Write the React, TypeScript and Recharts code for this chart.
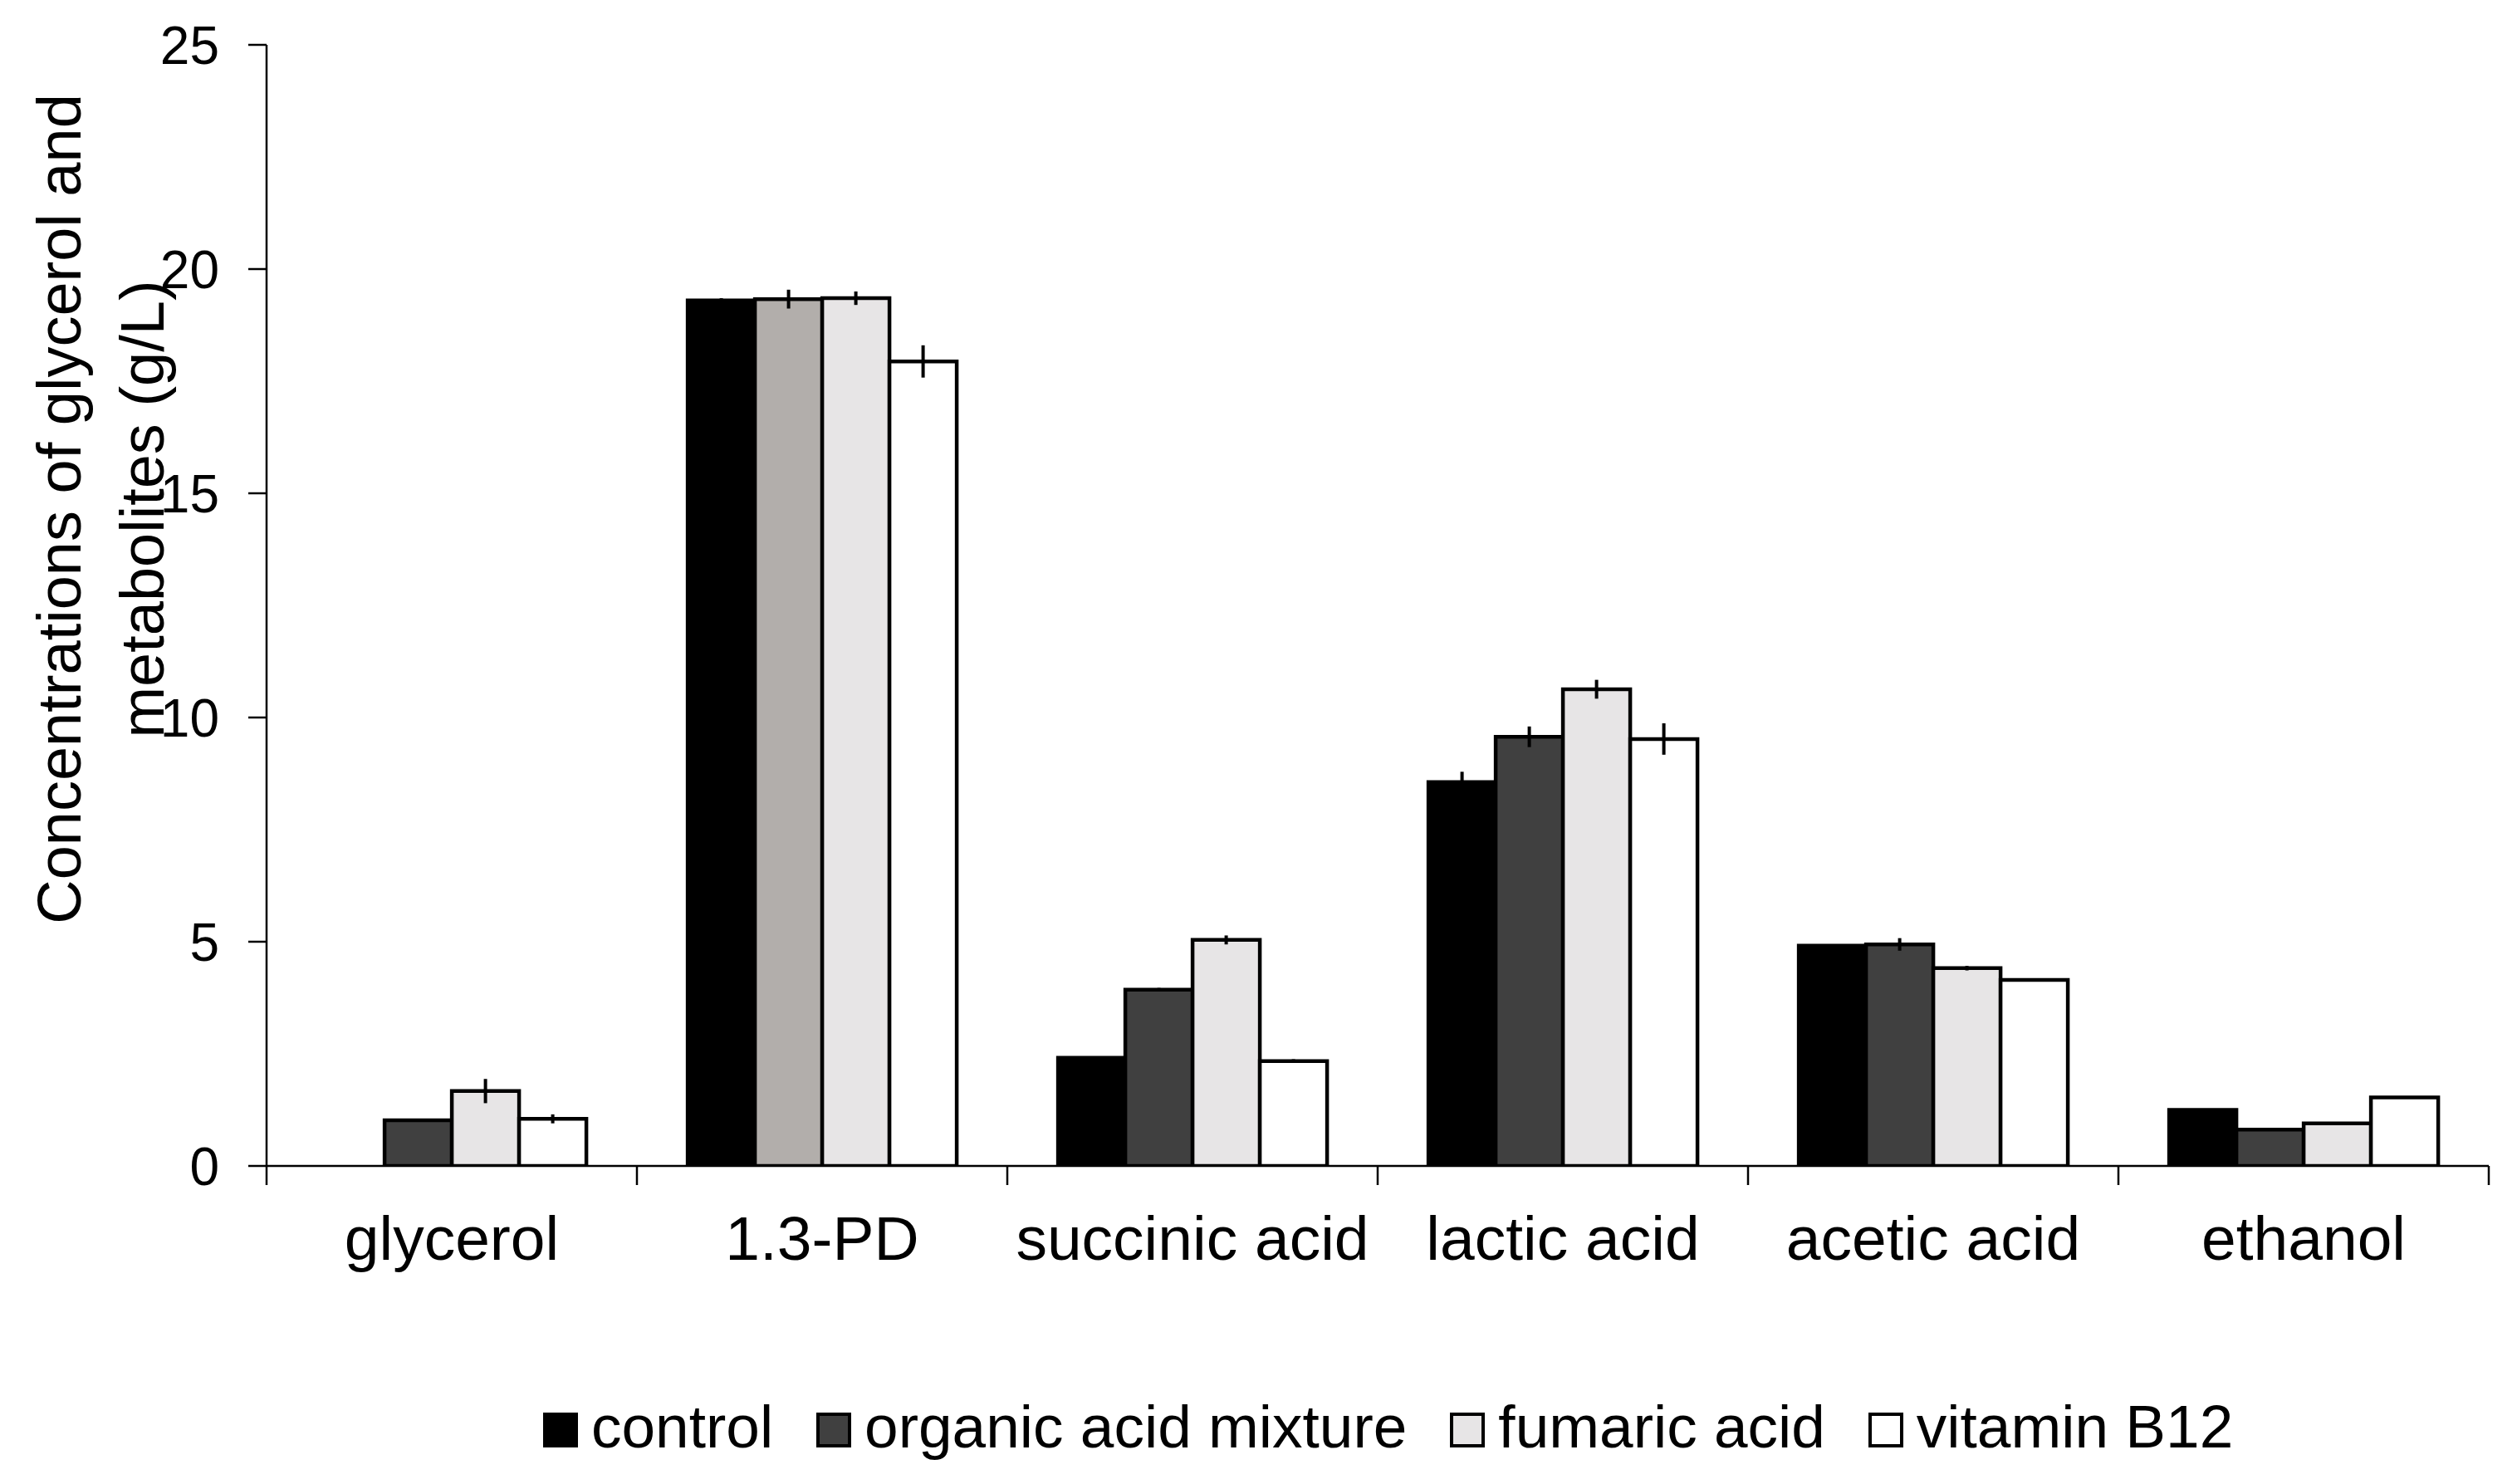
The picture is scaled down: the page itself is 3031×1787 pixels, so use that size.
import React from 'react';
import { BarChart, Bar, XAxis, YAxis, Legend, ErrorBar, Cell } from 'recharts';

// ---------- data ----------
const categories = ['glycerol', '1.3-PD', 'succinic acid', 'lactic acid', 'acetic acid', 'ethanol'];
const seriesNames = ['control', 'organic acid mixture', 'fumaric acid', 'vitamin B12'];

const control = [0, 19.3, 2.41, 8.56, 4.91, 1.25];
const organicMix = [1.02, 19.33, 3.93, 9.57, 4.94, 0.81];
const fumaric = [1.67, 19.35, 5.04, 10.63, 4.41, 0.95];
const vitaminB12 = [1.05, 17.94, 2.34, 9.52, 4.15, 1.53];

const controlErr = [0, 0.05, 0, 0.23, 0, 0];
const organicMixErr = [0, 0.21, 0.04, 0.23, 0.14, 0];
const fumaricErr = [0.27, 0.15, 0.1, 0.21, 0.05, 0];
const vitaminB12Err = [0.1, 0.36, 0.04, 0.35, 0, 0];

const yTicks = [0, 5, 10, 15, 20, 25];
const yLabelLines = ['Concentrations of glycerol and', 'metabolites (g/L)'];

const data = categories.map((category, i) => ({
  category,
  control: control[i],
  controlErr: controlErr[i],
  organic: organicMix[i],
  organicErr: organicMixErr[i],
  fumaric: fumaric[i],
  fumaricErr: fumaricErr[i],
  vitamin: vitaminB12[i],
  vitaminErr: vitaminB12Err[i],
}));

// ---------- styles / layout ----------
const FONT = '"Liberation Sans", Arial, Helvetica, sans-serif';
const CHART_W = 3015;
const CHART_H = 1771;
const MARGIN = { top: 46, right: 26, bottom: 0, left: 0 };
const Y_AXIS_W = 313;
const X_AXIS_H = 375;
const PLOT_W = CHART_W - MARGIN.left - MARGIN.right - Y_AXIS_W;
const HALF_BAND = PLOT_W / categories.length / 2;
const AXIS_STROKE = 2.5;
const BAR_STROKE = 4.5;

const seriesKeys = ['control', 'organic', 'fumaric', 'vitamin'];
const seriesFills = ['#000000', '#404040', '#e7e5e6', '#ffffff'];
const specialOrganicFill = '#b2aeab'; // 1.3-PD organic acid mixture bar

const CatTick = (props: any) => {
  const { x, y, payload, index } = props;
  const isLast = index === categories.length - 1;
  return (
    <g>
      <line x1={x - HALF_BAND} x2={x - HALF_BAND} y1={y} y2={y + 23} stroke="#000" strokeWidth={AXIS_STROKE} />
      {isLast && (
        <line x1={x + HALF_BAND} x2={x + HALF_BAND} y1={y} y2={y + 23} stroke="#000" strokeWidth={AXIS_STROKE} />
      )}
      <text x={x} y={y + 113} textAnchor="middle" fontSize={75} fontFamily={FONT} fill="#000">
        {payload.value}
      </text>
    </g>
  );
};

const YLabel = (props: any) => {
  const vb = props.viewBox || { x: 0, y: 0, width: 0, height: 0 };
  const cy = vb.y + vb.height / 2 - 116;
  const xs = [vb.x + 89, vb.x + 189];
  return (
    <g>
      {yLabelLines.map((line, i) => (
        <text
          key={i}
          x={xs[i]}
          y={cy}
          transform={`rotate(-90, ${xs[i]}, ${cy})`}
          textAnchor="middle"
          fontSize={74}
          fontFamily={FONT}
          fill="#000"
        >
          {line}
        </text>
      ))}
    </g>
  );
};

const LegendContent = () => (
  <div
    style={{
      display: 'flex',
      flexDirection: 'row',
      alignItems: 'center',
      gap: 52,
      fontFamily: FONT,
      fontSize: 73,
      lineHeight: '72px',
      color: '#000',
      whiteSpace: 'nowrap',
    }}
  >
    {seriesNames.map((name, i) => (
      <div key={name} style={{ display: 'flex', alignItems: 'center', gap: 16 }}>
        <div
          style={{
            width: 42,
            height: 42,
            boxSizing: 'border-box',
            background: seriesFills[i],
            border: '4.5px solid #000',
          }}
        />
        <span style={{ position: 'relative', top: -4 }}>{name}</span>
      </div>
    ))}
  </div>
);

export default function App() {
  return (
    <div style={{ width: CHART_W, height: CHART_H, background: '#fff' }}>
      <BarChart
        width={CHART_W}
        height={CHART_H}
        data={data}
        margin={MARGIN}
        barCategoryGap="13.7%"
        barGap={0}
      >
        <XAxis
          dataKey="category"
          height={X_AXIS_H}
          interval={0}
          tickLine={false}
          tickSize={0}
          tickMargin={0}
          axisLine={{ stroke: '#000', strokeWidth: AXIS_STROKE }}
          tick={(p: any) => <CatTick {...p} />}
        />
        <YAxis
          width={Y_AXIS_W}
          domain={[0, 25]}
          ticks={yTicks}
          interval={0}
          allowDataOverflow
          tickSize={22}
          tickMargin={35}
          tickLine={{ stroke: '#000', strokeWidth: AXIS_STROKE }}
          axisLine={{ stroke: '#000', strokeWidth: AXIS_STROKE }}
          tick={{ fontSize: 64, fill: '#000', fontFamily: FONT }}
          label={<YLabel />}
        />
        <Legend
          verticalAlign="middle"
          align="center"
          layout="horizontal"
          wrapperStyle={{ position: 'absolute', top: 1678, left: 646, width: 2300 }}
          content={<LegendContent />}
        />
        {seriesKeys.map((key, si) => (
          <Bar
            key={key}
            dataKey={key}
            name={seriesNames[si]}
            fill={seriesFills[si]}
            stroke="#000"
            strokeWidth={BAR_STROKE}
            isAnimationActive={false}
          >
            {key === 'organic' &&
              data.map((d) => (
                <Cell key={d.category} fill={d.category === '1.3-PD' ? specialOrganicFill : seriesFills[si]} />
              ))}
            <ErrorBar
              dataKey={`${key}Err`}
              width={0}
              stroke="#000"
              strokeWidth={4}
              direction="y"
              isAnimationActive={false}
            />
          </Bar>
        ))}
      </BarChart>
    </div>
  );
}
